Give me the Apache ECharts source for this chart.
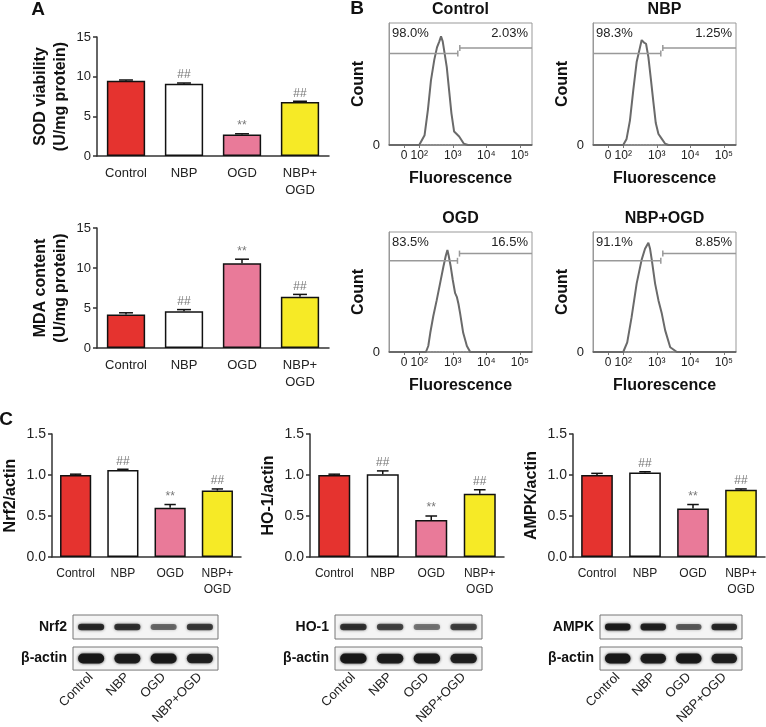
<!DOCTYPE html>
<html><head><meta charset="utf-8">
<script src="https://cdn.jsdelivr.net/npm/echarts@6/dist/echarts.min.js"></script>
<style>html,body{margin:0;padding:0;background:#fff}#c{width:766px;height:727px}</style>
</head><body><div id="c"></div><script>
// ---------- data ----------
const groups = ['Control', 'NBP', 'OGD', 'NBP+OGD'];
const groupLabels = ['Control', 'NBP', 'OGD', 'NBP+\nOGD'];
const sigMarks = ['', '##', '**', '##'];
const sodMean = [9.5, 9.1, 2.7, 6.8];
const sodErr = [0.08, 0.1, 0.1, 0.1];
const mdaMean = [4.2, 4.6, 10.6, 6.4];
const mdaErr = [0.2, 0.2, 0.5, 0.3];
const nrf2Mean = [1.0, 1.06, 0.6, 0.81];
const nrf2Err = [0.01, 0.01, 0.04, 0.02];
const ho1Mean = [1.0, 1.01, 0.45, 0.77];
const ho1Err = [0.01, 0.04, 0.05, 0.05];
const ampkMean = [1.0, 1.03, 0.59, 0.82];
const ampkErr = [0.02, 0.01, 0.05, 0.01];
const sodTicks = [0, 5, 10, 15];
const ratioTicks = [0.0, 0.5, 1.0, 1.5];

// flow cytometry histograms: [log10 fluorescence position, relative count]
const histTickVals = [1.55, 2, 3, 4, 5];
const histTickText = ['0', '10²', '10³', '10⁴', '10⁵'];
const histControl = [[1.10,0],[2.0,0],[2.16,8],[2.26,29],[2.35,53],[2.45,70],[2.53,80],[2.6,85],[2.65,89],[2.7,85],[2.74,78],[2.82,64],[2.89,45],[2.96,26],[3.04,11],[3.19,7],[3.33,1],[3.45,0],[5.36,0]];
const histNBP = [[1.10,0],[2.0,0],[2.1,5],[2.2,20],[2.3,45],[2.4,68],[2.5,80],[2.55,86],[2.62,84],[2.68,83],[2.75,72],[2.82,55],[2.9,35],[2.97,18],[3.05,9],[3.15,5],[3.25,1],[3.35,0],[5.36,0]];
const histOGD = [[1.10,0],[2.2,0],[2.27,5],[2.33,16],[2.42,30],[2.52,43],[2.62,57],[2.72,71],[2.79,80],[2.84,85],[2.88,80],[2.94,71],[3.0,60],[3.07,49],[3.12,46],[3.17,40],[3.22,32],[3.31,16],[3.42,5],[3.52,0],[5.36,0]];
const histNBPOGD = [[1.10,0],[2.0,0],[2.12,8],[2.25,29],[2.4,57],[2.55,77],[2.65,86],[2.75,91],[2.8,86],[2.85,77],[2.95,57],[3.05,43],[3.15,32],[3.25,18],[3.4,4],[3.6,0],[5.36,0]];
const gateX = [3.15, 3.12, 3.14, 3.12];
const gateYLeft = [75, 75, 76, 76];
const gateYRight = [79.5, 79.5, 82, 82];
const pctLeft = ['98.0%', '98.3%', '83.5%', '91.1%'];
const pctRight = ['2.03%', '1.25%', '16.5%', '8.85%'];

// western blot band intensities (0-1)
const nrf2Band = [0.85, 0.8, 0.55, 0.75];
const nrf2Actin = [0.98, 0.92, 0.95, 0.9];
const ho1Band = [0.8, 0.7, 0.5, 0.72];
const ho1Actin = [0.98, 0.92, 0.95, 0.9];
const ampkBand = [0.95, 0.9, 0.6, 0.85];
const ampkActin = [0.98, 0.92, 0.95, 0.9];

// ---------- styling ----------
const FONT = 'Liberation Sans, Arial, sans-serif';
const barColors = ['#e5332f', '#ffffff', '#e97a99', '#f6ea26'];
const axisCol = '#333';

const grids = [], xAxes = [], yAxes = [], series = [], graphics = [];

function errRenderer(means, errs) {
  return function (params, api) {
    const i = params.dataIndex;
    const base = api.coord([i, means[i]]);
    const top = api.coord([i, means[i] + errs[i]]);
    const cw = api.size([1, 0])[0] * 0.12;
    const ch = [
      {type: 'line', shape: {x1: base[0], y1: base[1], x2: top[0], y2: top[1]}, style: {stroke: '#111', lineWidth: 1.5}},
      {type: 'line', shape: {x1: top[0] - cw, y1: top[1], x2: top[0] + cw, y2: top[1]}, style: {stroke: '#111', lineWidth: 1.5}}
    ];
    if (sigMarks[i]) ch.push({type: 'text', style: {text: sigMarks[i], x: top[0], y: top[1] - 2, align: 'center', verticalAlign: 'bottom', fill: '#777', font: '12px ' + FONT}});
    return {type: 'group', children: ch};
  };
}

function barPanel(box, means, errs, ticks, yName, nameGap, nameSize, fmt, tickSize, catSize) {
  const gi = grids.length;
  grids.push({left: box[0], top: box[1], width: box[2], height: box[3]});
  xAxes.push({gridIndex: gi, type: 'category', data: groupLabels, boundaryGap: true,
    axisLine: {lineStyle: {color: axisCol, width: 1.5}},
    axisTick: {alignWithLabel: true, length: 4, lineStyle: {color: axisCol, width: 1.5}},
    axisLabel: {interval: 0, color: '#222', fontSize: catSize, fontFamily: FONT, margin: 9, lineHeight: catSize + 4}});
  yAxes.push({gridIndex: gi, type: 'value', min: ticks[0], max: ticks[ticks.length - 1], interval: ticks[1] - ticks[0],
    axisLine: {show: true, lineStyle: {color: axisCol, width: 1.5}},
    axisTick: {show: true, length: 4, lineStyle: {color: axisCol, width: 1.5}},
    axisLabel: {color: '#222', fontSize: tickSize, fontFamily: FONT, margin: 6, formatter: fmt},
    splitLine: {show: false},
    name: yName, nameLocation: 'middle', nameGap: nameGap,
    nameTextStyle: {fontWeight: 'bold', fontSize: nameSize, color: '#111', fontFamily: FONT, lineHeight: nameSize + 4}});
  series.push({type: 'bar', xAxisIndex: gi, yAxisIndex: gi, barWidth: '66%',
    data: means.map((v, i) => ({value: v, itemStyle: {color: barColors[i]}})),
    itemStyle: {borderColor: '#111', borderWidth: 1.5}, z: 2});
  series.push({type: 'custom', xAxisIndex: gi, yAxisIndex: gi, renderItem: errRenderer(means, errs),
    data: means.map((v, i) => [i, v]), z: 5});
}

function gateRenderer(k) {
  return function (params, api) {
    const cs = params.coordSys;
    const pL = api.coord([gateX[k], gateYLeft[k]]);
    const pR = api.coord([gateX[k], gateYRight[k]]);
    const gx = pL[0];
    const st = {stroke: '#999', lineWidth: 1.5};
    const tf = '13px ' + FONT;
    return {type: 'group', children: [
      {type: 'line', shape: {x1: cs.x, y1: pL[1], x2: gx, y2: pL[1]}, style: st},
      {type: 'line', shape: {x1: gx, y1: pL[1] - 3, x2: gx, y2: pL[1] + 3}, style: st},
      {type: 'line', shape: {x1: gx + 2, y1: pR[1], x2: cs.x + cs.width, y2: pR[1]}, style: st},
      {type: 'line', shape: {x1: gx + 2, y1: pR[1] - 3, x2: gx + 2, y2: pR[1] + 3}, style: st},
      {type: 'text', style: {text: pctLeft[k], x: cs.x + 3, y: cs.y + 4, align: 'left', verticalAlign: 'top', fill: '#222', font: tf}},
      {type: 'text', style: {text: pctRight[k], x: cs.x + cs.width - 4, y: cs.y + 4, align: 'right', verticalAlign: 'top', fill: '#222', font: tf}}
    ]};
  };
}

function histPanel(k, box, data, title) {
  const gi = grids.length;
  grids.push({left: box[0], top: box[1], width: box[2], height: box[3], show: true, borderColor: '#999', borderWidth: 1});
  xAxes.push({gridIndex: gi, type: 'value', min: 1.10, max: 5.36,
    axisLine: {lineStyle: {color: '#777', width: 1.5, type: [2, 1]}},
    axisTick: {show: true, customValues: histTickVals, length: 3, lineStyle: {color: '#777'}},
    axisLabel: {customValues: histTickVals, color: '#222', fontSize: 12, fontFamily: FONT, margin: 5,
      formatter: v => { const j = histTickVals.findIndex(t => Math.abs(t - v) < 1e-6); return j >= 0 ? histTickText[j] : ''; }},
    splitLine: {show: false},
    name: 'Fluorescence', nameLocation: 'middle', nameGap: 26,
    nameTextStyle: {fontWeight: 'bold', fontSize: 16, color: '#111', fontFamily: FONT}});
  yAxes.push({gridIndex: gi, type: 'value', min: 0, max: 100,
    axisLine: {show: true, lineStyle: {color: '#999', width: 1}},
    axisTick: {show: false},
    axisLabel: {customValues: [0], formatter: () => '0', color: '#222', fontSize: 13, fontFamily: FONT, margin: 9},
    splitLine: {show: false},
    name: 'Count', nameLocation: 'middle', nameGap: 22,
    nameTextStyle: {fontWeight: 'bold', fontSize: 16, color: '#111', fontFamily: FONT}});
  series.push({type: 'line', xAxisIndex: gi, yAxisIndex: gi, data: data, showSymbol: false, smooth: false,
    lineStyle: {color: '#6a6a6a', width: 2}, z: 3});
  series.push({type: 'custom', xAxisIndex: gi, yAxisIndex: gi, renderItem: gateRenderer(k), data: [[gateX[k], gateYLeft[k]]], z: 4, clip: false});
  graphics.push({type: 'text', x: box[0] + box[2] / 2, y: box[1] - 13,
    style: {text: title, align: 'center', verticalAlign: 'middle', font: 'bold 16px ' + FONT, fill: '#111'}});
}

function bandRenderer(vals, h) {
  return function (params, api) {
    const i = params.dataIndex;
    const c = api.coord([i, 0]);
    const w = api.size([1, 0])[0] * 0.72;
    const a = vals[i];
    const hh = h * (0.65 + 0.35 * a);
    return {type: 'rect', shape: {x: c[0] - w / 2, y: c[1] - hh / 2, width: w, height: hh, r: hh / 2},
      style: {fill: 'rgba(22,22,22,' + a + ')', shadowBlur: 3, shadowColor: 'rgba(0,0,0,' + (a * 0.8) + ')'}};
  };
}

function blotRow(left, top, width, label, vals, h, showNames) {
  const gi = grids.length;
  grids.push({left: left, top: top, width: width, height: 24, show: true, backgroundColor: '#f4f4f4', borderColor: '#777', borderWidth: 1});
  xAxes.push({gridIndex: gi, type: 'category', data: groups, boundaryGap: true,
    axisLine: {show: false}, axisTick: {show: false},
    axisLabel: {show: showNames, interval: 0, rotate: 45, color: '#222', fontSize: 13, fontFamily: FONT, margin: 5}});
  yAxes.push({gridIndex: gi, type: 'category', data: [label],
    axisLine: {show: false}, axisTick: {show: false},
    axisLabel: {color: '#111', fontWeight: 'bold', fontSize: 14, fontFamily: FONT, margin: 6}});
  series.push({type: 'custom', xAxisIndex: gi, yAxisIndex: gi, renderItem: bandRenderer(vals, h),
    data: vals.map((v, i) => [i, 0]), z: 3});
}

// ---------- panels ----------
barPanel([97, 37, 232, 119], sodMean, sodErr, sodTicks, 'SOD viability\n(U/mg protein)', 26, 16, v => String(v), 13, 13);
barPanel([97, 228, 232, 120], mdaMean, mdaErr, sodTicks, 'MDA content\n(U/mg protein)', 26, 16, v => String(v), 13, 13);

histPanel(0, [389, 23, 143, 122], histControl, 'Control');
histPanel(1, [593, 23, 143, 122], histNBP, 'NBP');
histPanel(2, [389, 232, 143, 120], histOGD, 'OGD');
histPanel(3, [593, 232, 143, 120], histNBPOGD, 'NBP+OGD');

barPanel([47, 434, 194, 123], nrf2Mean, nrf2Err, ratioTicks, 'Nrf2/actin', 31, 16, v => v.toFixed(1), 14, 12);
barPanel([310, 434, 194, 123], ho1Mean, ho1Err, ratioTicks, 'HO-1/actin', 31, 16, v => v.toFixed(1), 14, 12);
barPanel([573, 434, 192, 123], ampkMean, ampkErr, ratioTicks, 'AMPK/actin', 31, 16, v => v.toFixed(1), 14, 12);

blotRow(73, 615, 145, 'Nrf2', nrf2Band, 7, false);
blotRow(73, 647, 145, 'β-actin', nrf2Actin, 10, true);
blotRow(335, 615, 147, 'HO-1', ho1Band, 7, false);
blotRow(335, 647, 147, 'β-actin', ho1Actin, 10, true);
blotRow(600, 615, 142, 'AMPK', ampkBand, 7, false);
blotRow(600, 647, 142, 'β-actin', ampkActin, 10, true);

graphics.push({type: 'text', x: 38, y: 10, style: {text: 'A', align: 'center', verticalAlign: 'middle', font: 'bold 19px ' + FONT, fill: '#111'}});
graphics.push({type: 'text', x: 357, y: 9, style: {text: 'B', align: 'center', verticalAlign: 'middle', font: 'bold 19px ' + FONT, fill: '#111'}});
graphics.push({type: 'text', x: 6, y: 420, style: {text: 'C', align: 'center', verticalAlign: 'middle', font: 'bold 19px ' + FONT, fill: '#111'}});

const chart = echarts.init(document.getElementById('c'), null, {renderer: 'canvas'});
chart.setOption({
  animation: false,
  backgroundColor: '#fff',
  textStyle: {fontFamily: FONT},
  grid: grids, xAxis: xAxes, yAxis: yAxes, series: series, graphic: graphics
});
</script></body></html>
